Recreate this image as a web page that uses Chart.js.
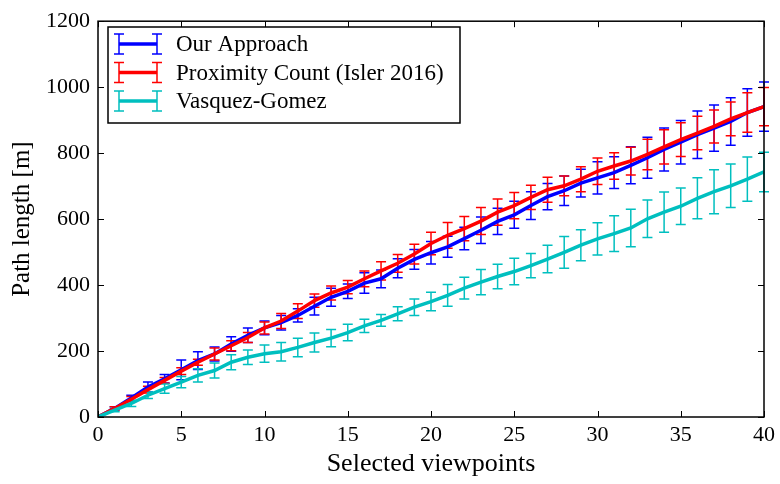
<!DOCTYPE html>
<html>
<head>
<meta charset="utf-8">
<script src="https://cdn.jsdelivr.net/npm/chart.js@4.4.1/dist/chart.umd.min.js"></script>
<style>
  html, body { margin: 0; padding: 0; background: #fff; }
  #wrap { width: 780px; height: 484px; }
</style>
</head>
<body>
<div id="wrap"><canvas id="pathChart" width="780" height="484"></canvas></div>
<script>
// number of selected viewpoints
const viewpoints = [0, 1, 2, 3, 4, 5, 6, 7, 8, 9, 10, 11, 12, 13, 14, 15, 16, 17, 18, 19, 20,
  21, 22, 23, 24, 25, 26, 27, 28, 29, 30, 31, 32, 33, 34, 35, 36, 37, 38, 39, 40];

// Our Approach
const oursMean = [0, 26, 58, 91, 116, 143, 171, 191, 221, 248, 270, 286, 308, 336, 363, 381, 406, 419, 451, 478, 498,
  516, 541, 566, 593, 613, 641, 668, 686, 709, 725, 741, 763, 786, 811, 833, 856, 876, 896, 923, 941];
const oursErr = [0, 5, 8, 15, 13, 30, 27, 21, 22, 22, 21, 22, 20, 27, 27, 22, 31, 27, 29, 30, 34,
  32, 34, 40, 40, 41, 42, 40, 45, 42, 49, 48, 56, 62, 65, 66, 72, 70, 72, 72, 75];

// Proximity Count (Isler 2016)
const proxMean = [0, 26, 54, 83, 111, 139, 166, 191, 216, 241, 270, 291, 321, 353, 376, 394, 419, 443, 466, 494, 526,
  551, 571, 594, 621, 641, 666, 689, 701, 721, 745, 761, 776, 796, 819, 841, 861, 881, 904, 923, 941];
const proxErr = [0, 5, 8, 10, 9, 10, 9, 18, 15, 15, 18, 23, 22, 20, 21, 20, 24, 28, 27, 30, 34,
  39, 37, 41, 40, 40, 37, 38, 30, 38, 40, 40, 42, 46, 52, 51, 51, 50, 51, 60, 58];

// Vasquez-Gomez
const vasqMean = [0, 21, 41, 66, 86, 106, 126, 141, 166, 181, 192, 198, 211, 226, 239, 256, 276, 293, 313, 333, 350,
  369, 391, 409, 426, 441, 459, 479, 499, 521, 540, 556, 573, 601, 621, 639, 663, 683, 701, 721, 743];
const vasqErr = [0, 5, 9, 10, 14, 17, 20, 23, 23, 22, 26, 28, 28, 29, 26, 25, 20, 18, 21, 25, 28,
  33, 33, 38, 37, 40, 37, 42, 48, 47, 49, 54, 57, 57, 61, 55, 62, 67, 66, 67, 60];

const seriesNames = ["Our Approach", "Proximity Count (Isler 2016)", "Vasquez-Gomez"];
const xTicks = [0, 5, 10, 15, 20, 25, 30, 35, 40];
const yTicks = [0, 200, 400, 600, 800, 1000, 1200];

const FONT = "'Liberation Serif', 'DejaVu Serif', serif";

function points(ys) {
  return viewpoints.map((x, i) => ({ x: x, y: ys[i] }));
}

// error bars, drawn under the lines
const errorBars = {
  id: "errorBars",
  beforeDatasetsDraw(chart) {
    const ctx = chart.ctx;
    const xs = chart.scales.x, ys = chart.scales.y;
    chart.data.datasets.forEach((ds) => {
      ctx.save();
      ctx.strokeStyle = ds.borderColor;
      ctx.lineWidth = 1.5;
      ds.err.forEach((e, i) => {
        if (!e) return;
        const px = xs.getPixelForValue(viewpoints[i]);
        const top = ys.getPixelForValue(ds.mean[i] + e);
        const bot = ys.getPixelForValue(ds.mean[i] - e);
        ctx.beginPath();
        ctx.moveTo(px, top); ctx.lineTo(px, bot);
        ctx.moveTo(px - 5, top); ctx.lineTo(px + 5, top);
        ctx.moveTo(px - 5, bot); ctx.lineTo(px + 5, bot);
        ctx.stroke();
      });
      ctx.restore();
    });
  }
};

// frame, inward ticks and legend box
const frameAndLegend = {
  id: "frameAndLegend",
  afterDraw(chart) {
    const ctx = chart.ctx;
    const a = chart.chartArea;
    const xs = chart.scales.x, ys = chart.scales.y;
    ctx.save();
    ctx.strokeStyle = "#000";
    ctx.lineWidth = 1;
    ctx.beginPath();
    xTicks.forEach((t) => {
      const px = Math.round(xs.getPixelForValue(t)) + 0.5;
      ctx.moveTo(px, a.bottom); ctx.lineTo(px, a.bottom - 6);
      ctx.moveTo(px, a.top); ctx.lineTo(px, a.top + 6);
    });
    yTicks.forEach((t) => {
      const py = Math.round(ys.getPixelForValue(t)) + 0.5;
      ctx.moveTo(a.left, py); ctx.lineTo(a.left + 6, py);
      ctx.moveTo(a.right, py); ctx.lineTo(a.right - 6, py);
    });
    ctx.stroke();

    ctx.lineWidth = 1.5;
    ctx.strokeRect(a.left, a.top, a.right - a.left, a.bottom - a.top);

    // legend
    const bx = 108, by = 27, bw = 352, bh = 96;
    ctx.fillStyle = "#fff";
    ctx.fillRect(bx, by, bw, bh);
    ctx.lineWidth = 1.5;
    ctx.strokeRect(bx, by, bw, bh);
    ctx.font = "23px " + FONT;
    ctx.textBaseline = "middle";
    ctx.textAlign = "left";
    chart.data.datasets.forEach((ds, i) => {
      const cy = 44 + i * 28.5;
      const x0 = 119, x1 = 157;
      ctx.strokeStyle = ds.borderColor;
      ctx.lineWidth = 3.5;
      ctx.beginPath();
      ctx.moveTo(x0, cy); ctx.lineTo(x1, cy);
      ctx.stroke();
      ctx.lineWidth = 1.5;
      ctx.beginPath();
      [x0, x1].forEach((x) => {
        ctx.moveTo(x, cy - 10); ctx.lineTo(x, cy + 10);
        ctx.moveTo(x - 5, cy - 10); ctx.lineTo(x + 5, cy - 10);
        ctx.moveTo(x - 5, cy + 10); ctx.lineTo(x + 5, cy + 10);
      });
      ctx.stroke();
      ctx.fillStyle = "#000";
      ctx.fillText(ds.label, 176, cy + 1);
    });
    ctx.restore();
  }
};

const ctx = document.getElementById("pathChart").getContext("2d");
const pathChart = new Chart(ctx, {
  type: "line",
  data: {
    datasets: [
      { label: seriesNames[0], data: points(oursMean), mean: oursMean, err: oursErr,
        borderColor: "#0000ff", order: 3 },
      { label: seriesNames[1], data: points(proxMean), mean: proxMean, err: proxErr,
        borderColor: "#ff0000", order: 2 },
      { label: seriesNames[2], data: points(vasqMean), mean: vasqMean, err: vasqErr,
        borderColor: "#00bfbf", order: 1 },
    ],
  },
  options: {
    responsive: false,
    animation: false,
    elements: {
      line: { borderWidth: 3.5, tension: 0, fill: false },
      point: { radius: 0, hoverRadius: 0 },
    },
    layout: { padding: { top: 17, right: 14, left: 0, bottom: 0 } },
    plugins: {
      legend: { display: false },
      tooltip: { enabled: false },
    },
    scales: {
      x: {
        type: "linear",
        min: 0,
        max: 40,
        afterBuildTicks: (s) => { s.ticks = xTicks.map((v) => ({ value: v })); },
        afterFit: (s) => { s.height = 67; },
        grid: { display: false, drawTicks: false },
        border: { display: false },
        ticks: { color: "#000", padding: 5, font: { family: FONT, size: 22 },
          callback: (v) => String(v) },
        title: {
          display: true,
          text: "Selected viewpoints",
          color: "#000",
          padding: { top: 0, bottom: 4 },
          font: { family: FONT, size: 26 },
        },
      },
      y: {
        min: 0,
        max: 1200,
        afterBuildTicks: (s) => { s.ticks = yTicks.map((v) => ({ value: v })); },
        afterFit: (s) => { s.width = 98; },
        grid: { display: false, drawTicks: false },
        border: { display: false },
        ticks: { color: "#000", padding: 8, font: { family: FONT, size: 22 },
          callback: (v) => String(v) },
        title: {
          display: true,
          text: "Path length [m]",
          color: "#000",
          padding: { top: 7, bottom: 0 },
          font: { family: FONT, size: 25 },
        },
      },
    },
  },
  plugins: [errorBars, frameAndLegend],
});
</script>
</body>
</html>
